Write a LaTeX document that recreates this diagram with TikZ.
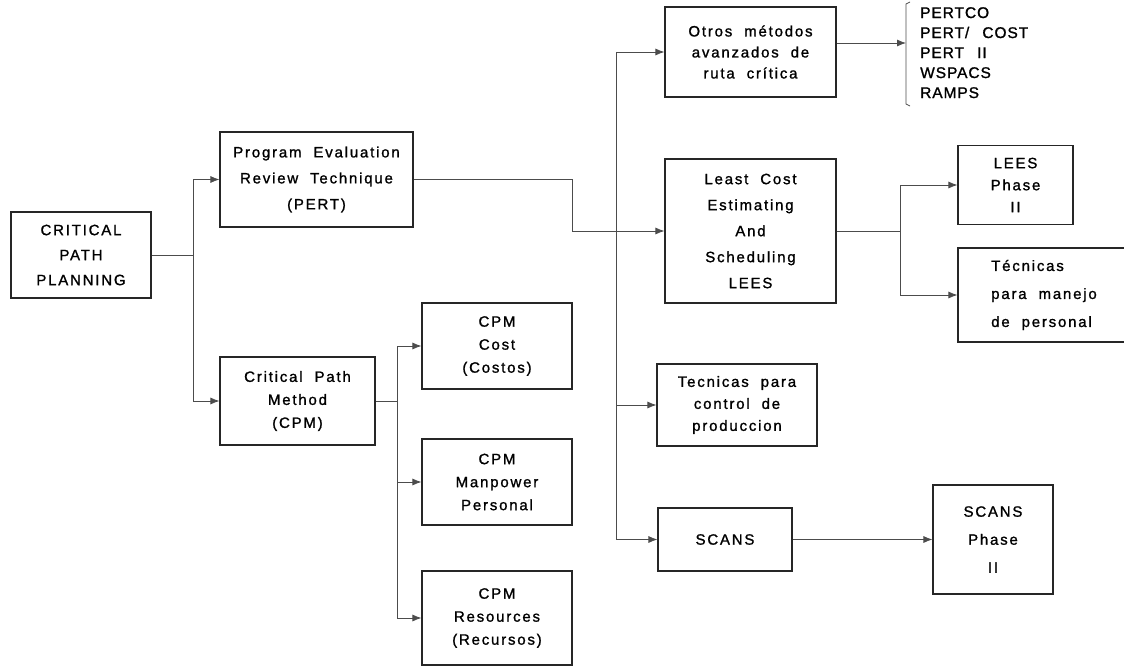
\documentclass[tikz,border=0pt]{standalone}
\usepackage{fontspec}
\setmainfont{Liberation Sans}[LetterSpace=12.0,WordSpace=2,FakeBold=1.2]
\newfontfamily\listfont{Liberation Sans}[LetterSpace=6.0,WordSpace=2.5,FakeBold=1.2]
\usetikzlibrary{arrows.meta}

\tikzset{
  box/.style={draw=black!85, line width=1.1pt, inner sep=0pt, align=center,
              font=\fontsize{15}{23}\selectfont},
  wire/.style={draw=black!70, line width=0.8pt},
  arr/.style={wire, -{Latex[length=9pt,width=7pt]}},
}

\begin{document}
\begin{tikzpicture}[x=1pt,y=-1pt]
\useasboundingbox (0,0) rectangle (1124,666);

% ---- boxes ----
\node[box, minimum width=140pt, minimum height=86pt, font=\fontsize{15}{25}\selectfont]
  (cpp) at (81,255) {CRITICAL\\PATH\\PLANNING};
\node[box, minimum width=193pt, minimum height=95pt, font=\fontsize{15}{26}\selectfont]
  (pert) at (316.5,179.5) {Program Evaluation\\Review Technique\\(PERT)};
\node[box, minimum width=155pt, minimum height=88pt]
  (cpm) at (297.5,401) {Critical Path\\Method\\(CPM)};

\node[box, minimum width=150pt, minimum height=86pt]
  (cost) at (497,346) {CPM\\Cost\\(Costos)};
\node[box, minimum width=150pt, minimum height=86pt]
  (man) at (497,482) {CPM\\Manpower\\Personal};
\node[box, minimum width=150pt, minimum height=94pt]
  (res) at (497,618) {CPM\\Resources\\(Recursos)};

\node[box, minimum width=171pt, minimum height=90pt, font=\fontsize{15}{21}\selectfont]
  (otros) at (750.5,52) {Otros métodos\\avanzados de\\ruta crítica};
\node[box, minimum width=171pt, minimum height=144pt, font=\fontsize{15}{26}\selectfont]
  (lees) at (750.5,231) {Least Cost\\Estimating\\And\\Scheduling\\LEES};
\node[box, minimum width=160pt, minimum height=82pt, font=\fontsize{15}{22}\selectfont]
  (ctrl) at (737,405) {Tecnicas para\\control de\\produccion};
\node[box, minimum width=134pt, minimum height=63pt]
  (scans) at (725,539.5) {SCANS};

\node[box, minimum width=115pt, minimum height=79pt, font=\fontsize{15}{22}\selectfont]
  (lees2) at (1015.5,185) {LEES\\Phase\\II};
\node[box, minimum width=172pt, minimum height=94pt, align=left, font=\fontsize{15}{28}\selectfont]
  (pers) at (1044,295) {Técnicas\\para manejo\\de personal};
\node[box, minimum width=120pt, minimum height=109pt, font=\fontsize{15}{28}\selectfont]
  (scans2) at (993,539.5) {SCANS\\Phase\\II};

% ---- list of advanced methods ----
\node[anchor=north west, inner sep=0pt, align=left, font=\listfont\fontsize{15.5}{20}\selectfont]
  (lst) at (920,7) {PERTCO\\PERT/ COST\\PERT II\\WSPACS\\RAMPS};
\coordinate (lstin) at (906,43);
\draw[wire] (910,2) -- (906,4) -- (906,104) -- (910,106);

% ---- junction columns ----
\coordinate (ja) at (193,0);
\coordinate (jb) at (397,0);
\coordinate (jc) at (572,0);
\coordinate (jd) at (616,0);
\coordinate (je) at (900,0);

% ---- connectors ----
\draw[wire] (cpp.east) -- (ja |- cpp.east);
\draw[wire] (ja |- pert.west) -- (ja |- cpm.west);
\draw[arr] (ja |- pert.west) -- (pert.west);
\draw[arr] (ja |- cpm.west) -- (cpm.west);

\draw[wire] (cpm.east) -- (jb |- cpm.east);
\draw[wire] (jb |- cost.west) -- (jb |- res.west);
\draw[arr] (jb |- cost.west) -- (cost.west);
\draw[arr] (jb |- man.west) -- (man.west);
\draw[arr] (jb |- res.west) -- (res.west);

\draw[arr] (pert.east) -| (jc |- lees.west) -- (lees.west);
\draw[wire] (jd |- otros.west) -- (jd |- scans.west);
\draw[arr] (jd |- otros.west) -- (otros.west);
\draw[arr] (jd |- ctrl.west) -- (ctrl.west);
\draw[arr] (jd |- scans.west) -- (scans.west);

\draw[arr] ([yshift=9pt]otros.east) -- (lstin);

\draw[wire] (lees.east) -- (je |- lees.east);
\draw[wire] (je |- lees2.west) -- (je |- pers.west);
\draw[arr] (je |- lees2.west) -- (lees2.west);
\draw[arr] (je |- pers.west) -- (pers.west);

\draw[arr] (scans.east) -- (scans2.west);
\end{tikzpicture}
\end{document}
